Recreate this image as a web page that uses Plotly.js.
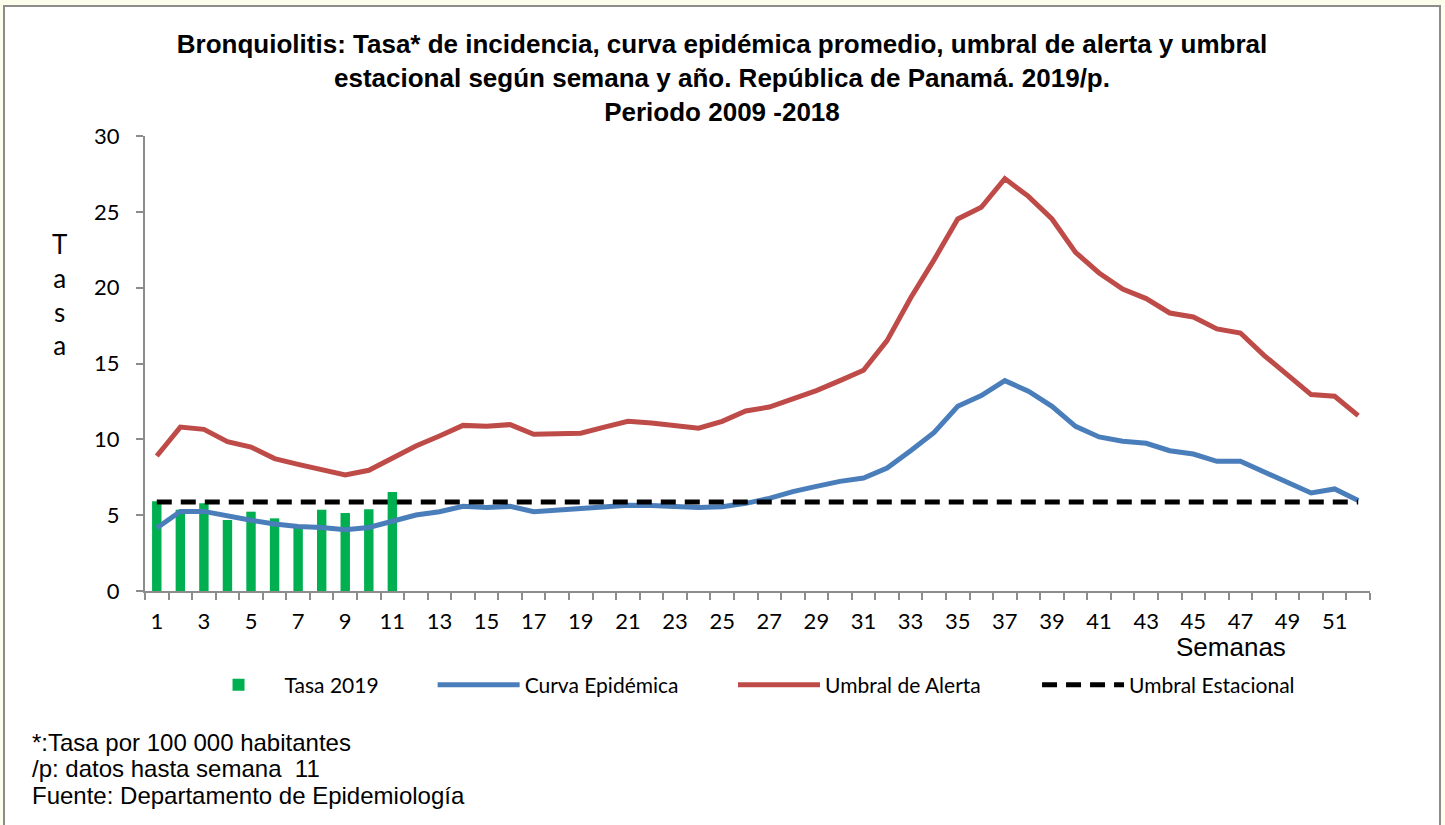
<!DOCTYPE html>
<html>
<head>
<meta charset="utf-8">
<script src="https://cdn.plot.ly/plotly-3.0.1.min.js"></script>
<style>
  html, body { margin:0; padding:0; background:#FDFDEB; width:1445px; height:825px; overflow:hidden; }
  #frame { position:absolute; left:3px; top:5px; width:1438px; height:834px; border:2px solid #8C8C8C; box-sizing:border-box; background:#FFFFFF; }
  #chart { width:1434px; height:830px; }
</style>
</head>
<body>
<div id="frame"><div id="chart"></div></div>
<script>
// ---- data ----
const weeks = [1,2,3,4,5,6,7,8,9,10,11,12,13,14,15,16,17,18,19,20,21,22,23,24,25,26,
               27,28,29,30,31,32,33,34,35,36,37,38,39,40,41,42,43,44,45,46,47,48,49,50,51,52];
const weeks2019 = [1,2,3,4,5,6,7,8,9,10,11];
const tasa2019 = [5.92,5.36,5.78,4.68,5.23,4.79,4.30,5.36,5.14,5.39,6.53];
const curvaEpidemica = [4.15,5.25,5.25,4.92,4.66,4.42,4.26,4.19,4.04,4.19,
                        4.59,5.01,5.23,5.58,5.50,5.58,5.23,5.32,5.41,5.50,
                        5.65,5.63,5.56,5.50,5.56,5.78,6.11,6.55,6.90,7.23,
                        7.45,8.11,9.25,10.46,12.18,12.88,13.87,13.17,12.18,10.86,
                        10.16,9.87,9.74,9.25,9.03,8.55,8.55,7.85,7.23,6.46,
                        6.73,5.96];
const umbralAlerta = [8.90,10.81,10.66,9.85,9.49,8.73,8.35,7.98,7.65,7.96,
                      8.73,9.56,10.22,10.92,10.86,10.97,10.33,10.40,10.40,10.81,
                      11.19,11.08,10.90,10.73,11.19,11.87,12.13,12.64,13.21,13.87,
                      14.55,16.51,19.32,21.85,24.53,25.30,27.19,26.02,24.53,22.33,
                      20.97,19.91,19.28,18.33,18.07,17.28,17.01,15.54,14.27,12.95,
                      12.84,11.56];
const umbralEstacional = [5.87,5.87,5.87,5.87,5.87,5.87,5.87,5.87,5.87,5.87,
                          5.87,5.87,5.87,5.87,5.87,5.87,5.87,5.87,5.87,5.87,
                          5.87,5.87,5.87,5.87,5.87,5.87,5.87,5.87,5.87,5.87,
                          5.87,5.87,5.87,5.87,5.87,5.87,5.87,5.87,5.87,5.87,
                          5.87,5.87,5.87,5.87,5.87,5.87,5.87,5.87,5.87,5.87,
                          5.87,5.87];
const xTickVals = [1,3,5,7,9,11,13,15,17,19,21,23,25,27,29,31,33,35,37,39,41,43,45,47,49,51];
const xTickText = ["1","3","5","7","9","11","13","15","17","19","21","23","25","27","29","31","33","35","37","39","41","43","45","47","49","51"];
const seriesNames = ["Tasa 2019","Curva Epidémica","Umbral de Alerta","Umbral Estacional"];
const titleText = "Bronquiolitis: Tasa* de incidencia, curva epidémica promedio, umbral de alerta y umbral<br>estacional según semana y año. República de Panamá. 2019/p.<br>Periodo 2009 -2018";
const footnotes = ["*:Tasa por 100 000 habitantes", "/p: datos hasta semana  11", "Fuente: Departamento de Epidemiología"];

// ---- chart ----
const axisGray = '#8C8C8C';
const tickFont = {family:'Lato, sans-serif', size:22, color:'#000'};
const legFont = {family:'Lato, sans-serif', size:21, color:'#000'};

const traces = [
  {type:'bar', x:weeks2019, y:tasa2019, name:seriesNames[0], width:0.4,
   marker:{color:'#00B050'}, legend:'legend'},
  {type:'scatter', mode:'lines', x:weeks, y:curvaEpidemica, name:seriesNames[1],
   line:{color:'#4A7EBB', width:5}, legend:'legend2'},
  {type:'scatter', mode:'lines', x:weeks, y:umbralAlerta, name:seriesNames[2],
   line:{color:'#BE4B48', width:5}, legend:'legend3'},
  {type:'scatter', mode:'lines', x:weeks, y:umbralEstacional, name:seriesNames[3],
   line:{color:'#000000', width:5, dash:'15px,9px'}, legend:'legend4'}
];

function leg(x) {
  return {orientation:'h', x:x, xanchor:'left', y:-0.2066, yanchor:'middle',
          font:legFont, itemwidth:82, bgcolor:'rgba(0,0,0,0)', borderwidth:0};
}

const annotations = [
  {text:'Semanas', xref:'paper', yref:'paper', x:0.8865, y:-0.1225, xanchor:'center', yanchor:'middle',
   showarrow:false, font:{family:'Liberation Sans, Arial, sans-serif', size:26, color:'#000'}},
  {text:'T<br>a<br>s<br>a', xref:'paper', yref:'paper', x:-0.0694, y:0.652, xanchor:'center', yanchor:'middle',
   showarrow:false, font:{family:'Lato, sans-serif', size:26, color:'#000'}}
];
const footY = [-0.3319, -0.3912, -0.4505];
footnotes.forEach((t, i) => annotations.push({
  text:t, xref:'paper', yref:'paper', x:-0.0939, y:footY[i], xanchor:'left', yanchor:'middle', align:'left',
  showarrow:false, font:{family:'Liberation Sans, Arial, sans-serif', size:24, color:'#000'}
}));

const layout = {
  width:1434, height:830,
  margin:{l:140, r:69, t:129, b:246},
  paper_bgcolor:'#FFFFFF', plot_bgcolor:'#FFFFFF',
  title:{text:titleText, x:0.5, xref:'container', xanchor:'center',
         y:1 - 46/830, yref:'container', yanchor:'top',
         font:{family:'Liberation Sans, Arial, sans-serif', size:26, color:'#000', weight:'bold'}},
  showlegend:true,
  legend:leg(0.0388), legend2:leg(0.2348), legend3:leg(0.4800), legend4:leg(0.7282),
  xaxis:{range:[0.5,52.5], tickmode:'array', tickvals:xTickVals, ticktext:xTickText,
         ticks:'', showgrid:false, zeroline:false, showline:true, linecolor:axisGray, linewidth:2,
         tickfont:tickFont, ticklabelstandoff:10,
         minor:{tickmode:'linear', tick0:0.5, dtick:1, ticks:'outside', ticklen:7, tickwidth:2,
                tickcolor:axisGray, showgrid:false}},
  yaxis:{range:[0,30], tickmode:'linear', tick0:0, dtick:5, ticks:'outside', ticklen:7, tickwidth:2,
         tickcolor:axisGray, showgrid:false, zeroline:false, showline:true, linecolor:axisGray, linewidth:2,
         tickfont:tickFont, ticklabelstandoff:12},
  annotations:annotations
};

Plotly.newPlot('chart', traces, layout, {staticPlot:true, displayModeBar:false});
</script>
</body>
</html>
